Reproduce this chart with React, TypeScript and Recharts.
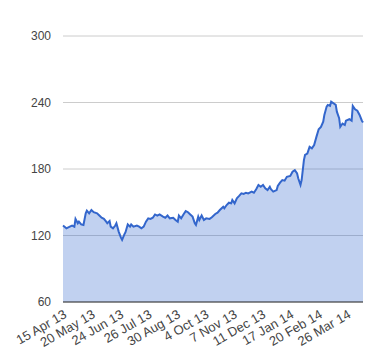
import { Area, AreaChart, CartesianGrid, XAxis, YAxis } from "recharts";

// trading-day index (0 = 15 Apr 13) and close price
const dayIndex = [
  0, 3, 6, 8, 10, 11, 13, 14, 16, 18, 20, 21, 23, 25, 27, 30, 32, 34, 36, 38,
  39, 41, 42, 44, 46, 47, 49, 51, 52, 54, 55, 57, 59, 60, 62, 65, 67, 69, 71,
  73, 75, 77, 79, 81, 83, 85, 88, 90, 92, 94, 97, 99, 101, 102, 104, 106, 108,
  110, 112, 114, 116, 117, 119, 120, 122, 124, 126, 129, 131, 134, 136, 138,
  141, 142, 144, 146, 148, 149, 151, 153, 155, 157, 159, 161, 163, 166, 168,
  170, 172, 174, 176, 178, 180, 182, 183, 185, 188, 189, 191, 193, 195, 197,
  200, 202, 204, 206, 207, 209, 210, 212, 213, 215, 217, 219, 221, 223, 225,
  227, 229, 230, 232, 233, 235, 236, 238, 240, 241, 243, 244, 246, 248, 249,
  252, 254, 255, 257, 259, 261, 263, 264,
];

const price = [
  129, 126.5, 128, 129, 128, 135, 131, 132.5, 130, 129.5, 140, 142.4, 140, 143,
  141, 140, 138, 136, 135, 132.5, 131, 133, 128, 126.5, 129, 131, 123.5, 118,
  116, 121, 123, 130, 128, 130, 128, 129, 128, 126.5, 128, 132.5, 135.5, 135,
  136, 139, 138, 139, 137, 136, 138, 135.5, 136, 134, 132.5, 138, 135.5, 139,
  142, 141, 139, 137, 131, 129.5, 137, 134, 138, 134, 135.5, 135, 136.4, 139.4,
  140.6, 143, 146, 144.5, 147.5, 149.6, 149, 152, 149, 153.6, 155.7, 158,
  157.5, 158.6, 158, 159.6, 158.6, 161.7, 165.6, 164, 165.6, 162.6, 161, 164,
  161.7, 159.6, 161, 164.7, 167.7, 170, 169.5, 173, 173.7, 177.6, 179, 176,
  171.6, 165.6, 170, 188, 192.7, 194, 200, 198.7, 201.7, 209, 215.8, 218,
  222.7, 228.8, 236.3, 237.8, 236.9, 240.8, 239.3, 237.8, 231.7, 225.8, 218,
  221, 219.7, 223.6, 224.9, 223.6, 236.9, 233.9, 232.6, 228.8, 223.6, 222,
];

const tickDays = [0, 25, 50, 75, 100, 125, 150, 175, 200, 225, 250];
const tickLabels = [
  "15 Apr 13",
  "20 May 13",
  "24 Jun 13",
  "26 Jul 13",
  "30 Aug 13",
  "4 Oct 13",
  "7 Nov 13",
  "11 Dec 13",
  "17 Jan 14",
  "20 Feb 14",
  "26 Mar 14",
];
const yTicks = [60, 120, 180, 240, 300];

const data = dayIndex.map((day, i) => ({ day, price: price[i] }));

const font = "Arial, 'Liberation Sans', sans-serif";

export default function App() {
  return (
    <div style={{ position: "absolute", left: 0, top: 0, background: "#fff" }}>
      <AreaChart
        width={380}
        height={360}
        data={data}
        margin={{ top: 36, right: 17, bottom: 0, left: 0 }}
      >
        <CartesianGrid vertical={false} stroke="#cccccc" />
        <XAxis
          dataKey="day"
          type="number"
          domain={[0, 264]}
          ticks={tickDays}
          interval={0}
          tickFormatter={(v: number) => tickLabels[tickDays.indexOf(v)] ?? ""}
          height={58}
          angle={-30}
          textAnchor="end"
          tickLine={false}
          tickSize={0}
          tickMargin={7}
          axisLine={{ stroke: "#333333", strokeWidth: 1 }}
          tick={{ fill: "#444444", fontSize: 13, fontFamily: font }}
        />
        <YAxis
          domain={[60, 300]}
          ticks={yTicks}
          width={63}
          axisLine={false}
          tickLine={false}
          tickSize={0}
          tickMargin={12}
          tick={{ fill: "#444444", fontSize: 12, fontFamily: font }}
        />
        <Area
          type="linear"
          dataKey="price"
          stroke="#3366cc"
          strokeWidth={2}
          fill="#3366cc"
          fillOpacity={0.3}
          isAnimationActive={false}
          dot={false}
          activeDot={false}
        />
      </AreaChart>
    </div>
  );
}
